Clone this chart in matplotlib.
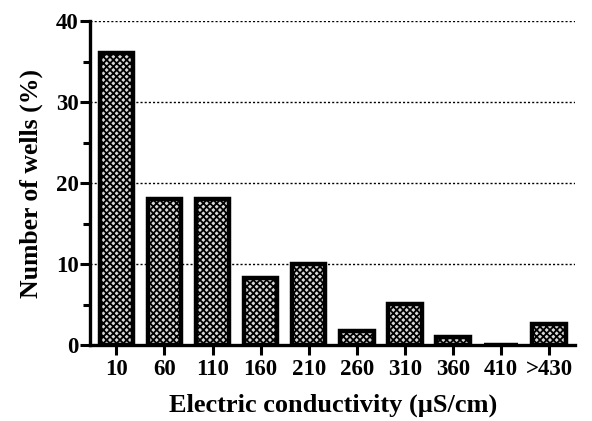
import matplotlib.pyplot as plt
import numpy as np

categories = ['10', '60', '110', '160', '210', '260', '310', '360', '410', '>430']
wells_pct = [36, 18, 18, 8.3, 10, 1.8, 5.1, 1.0, 0, 2.6]

plt.rcParams['font.family'] = ['Liberation Serif', 'DejaVu Serif']
plt.rcParams['font.weight'] = 'bold'
plt.rcParams['hatch.linewidth'] = 1.3

fig = plt.figure(figsize=(5.92, 4.21), dpi=100)
ax = fig.add_axes([0.152, 0.18, 0.82, 0.77])

x = np.arange(len(categories))
ax.bar(x, wells_pct, width=0.7, color='#d8d8d8', edgecolor='black',
       linewidth=3.2, hatch='xxxxx', zorder=3)

ax.set_xlim(-0.55, 9.55)
ax.set_ylim(0, 40)
ax.set_yticks([0, 10, 20, 30, 40])
ax.set_yticks([5, 15, 25, 35], minor=True)
ax.set_xticks(x)
ax.set_xticklabels(categories)
ax.yaxis.grid(True, linestyle=(0, (1.5, 1.5)), color='black', linewidth=1.0, zorder=0)

for s in ['top', 'right']:
    ax.spines[s].set_visible(False)
for s in ['left', 'bottom']:
    ax.spines[s].set_linewidth(2.4)

ax.tick_params(axis='both', which='major', length=7, width=2.2, labelsize=16.5)
ax.tick_params(axis='y', which='minor', length=5, width=2.2)
ax.tick_params(axis='y', pad=1)
ax.tick_params(axis='x', pad=3)

ax.set_xlabel('Electric conductivity (\u00b5S/cm)', fontsize=19, fontweight='bold', labelpad=10)
ax.set_ylabel('Number of wells (%)', fontsize=18.5, fontweight='bold', labelpad=9)

fig.savefig('out.png', dpi=100)
